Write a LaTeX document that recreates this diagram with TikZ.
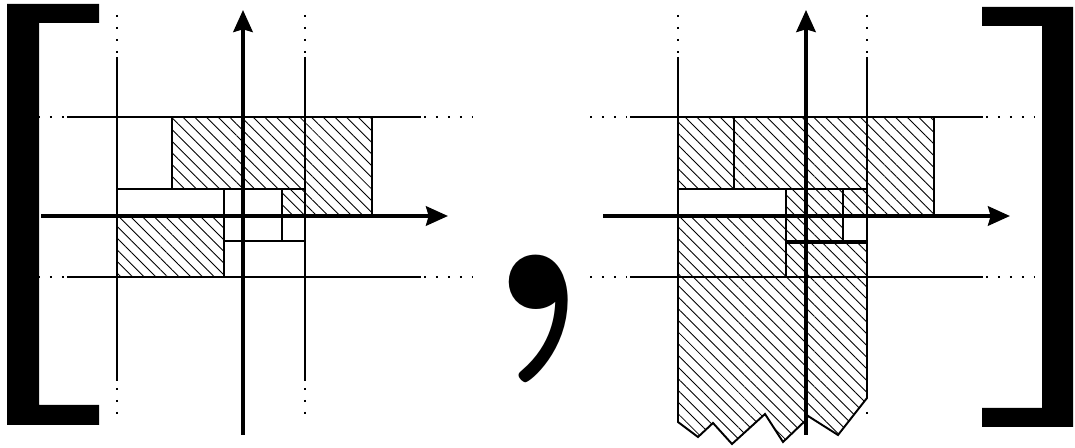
\documentclass[tikz,border=0pt]{standalone}
\usetikzlibrary{arrows.meta,patterns.meta}
\begin{document}
\begin{tikzpicture}[x=0.02cm,y=-0.02cm,
  hatch/.style={pattern={Lines[angle=-45,distance=4.7pt,line width=0.5pt]},draw=black,line width=1.3pt},
  plainbox/.style={draw=black,line width=1.3pt},
  refline/.style={draw=black,line width=1pt},
  refdots/.style={draw=black,line width=1pt,dash pattern=on 1.4pt off 5.4pt},
  axis/.style={draw=black,line width=2.2pt,-{Stealth[length=12.5pt,width=11pt,inset=1.5pt]}},
  bracket/.style={fill=black,draw=none}]
\useasboundingbox (0,0) rectangle (1075,448);

% ---------- left bracket ----------
\fill[bracket] (7,4) -- (99,4) -- (99,23) -- (39,23) -- (39,405) -- (99,405) -- (99,425) -- (7,425) -- cycle;
% ---------- right bracket ----------
\fill[bracket] (982,7) -- (1073,7) -- (1073,427) -- (982,427) -- (982,408) -- (1042,408) -- (1042,26) -- (982,26) -- cycle;

% ---------- comma ----------
\node[inner sep=0pt,anchor=base] (comma) at (537,310) {\fontsize{215}{215}\selectfont\bfseries ,};

% ================= LEFT PANEL =================
\path[hatch] (172,117) rectangle (305,189);
\path[hatch] (305,117) rectangle (372,215);
\path[hatch] (282,189) rectangle (305,215);
\path[hatch] (117,216) rectangle (224,277);
\path[plainbox] (117,189) rectangle (224,216);
\path[plainbox] (224,189) rectangle (282,241);
\path[plainbox] (282,215) rectangle (305,241);
% reference lines (vertical)
\path[refdots] (117,15) -- (117,55);
\path[refline] (117,57) -- (117,381);
\path[refdots] (117,388) -- (117,416);
\path[refdots] (305,15) -- (305,55);
\path[refline] (305,57) -- (305,381);
\path[refdots] (305,388) -- (305,416);
% reference lines (horizontal)
\path[refdots] (38,117) -- (64,117);
\path[refline] (67,117) -- (421,117);
\path[refdots] (424,117) -- (472,117);
\path[refdots] (38,277) -- (64,277);
\path[refline] (67,277) -- (421,277);
\path[refdots] (424,277) -- (472,277);
% axes
\coordinate (Lxs) at (41,216);
\coordinate (Lxe) at (448,216);
\coordinate (Lys) at (243,435);
\coordinate (Lye) at (243,10);
\draw[axis] (Lxs) -- (Lxe);
\draw[axis] (Lys) -- (Lye);

% ================= RIGHT PANEL =================
\path[hatch] (678,117) rectangle (734,189);
\path[hatch] (734,117) rectangle (867,189);
\path[hatch] (867,117) rectangle (934,215);
\path[hatch] (786,189) rectangle (843,241);
\path[hatch] (843,189) rectangle (867,215);
\path[hatch] (678,216) rectangle (786,277);
\path[hatch] (786,243) rectangle (867,277);
\path[plainbox] (678,189) rectangle (786,216);
\path[plainbox] (843,215) rectangle (867,241);
\path[hatch,line width=1.1pt] (678,277) -- (867,277) -- (867,398) -- (838,435) -- (808,416)
   -- (805,421) -- (783,442) -- (765,414) -- (732,444) -- (713,423) -- (698,437) -- (678,422) -- cycle;
% reference lines (vertical)
\path[refdots] (678,15) -- (678,55);
\path[refline] (678,57) -- (678,422);
\path[refdots] (867,15) -- (867,55);
\path[refline] (867,57) -- (867,398);
\path[refdots] (867,412) -- (867,415);
% reference lines (horizontal)
\path[refdots] (590,117) -- (626,117);
\path[refline] (630,117) -- (983,117);
\path[refdots] (986,117) -- (1034,117);
\path[refdots] (590,277) -- (626,277);
\path[refline] (630,277) -- (983,277);
\path[refdots] (986,277) -- (1034,277);
% axes
\coordinate (Rxs) at (603,216);
\coordinate (Rxe) at (1010,216);
\coordinate (Rys) at (806,435);
\coordinate (Rye) at (806,10);
\draw[axis] (Rxs) -- (Rxe);
\draw[axis] (Rys) -- (Rye);
\end{tikzpicture}
\end{document}
